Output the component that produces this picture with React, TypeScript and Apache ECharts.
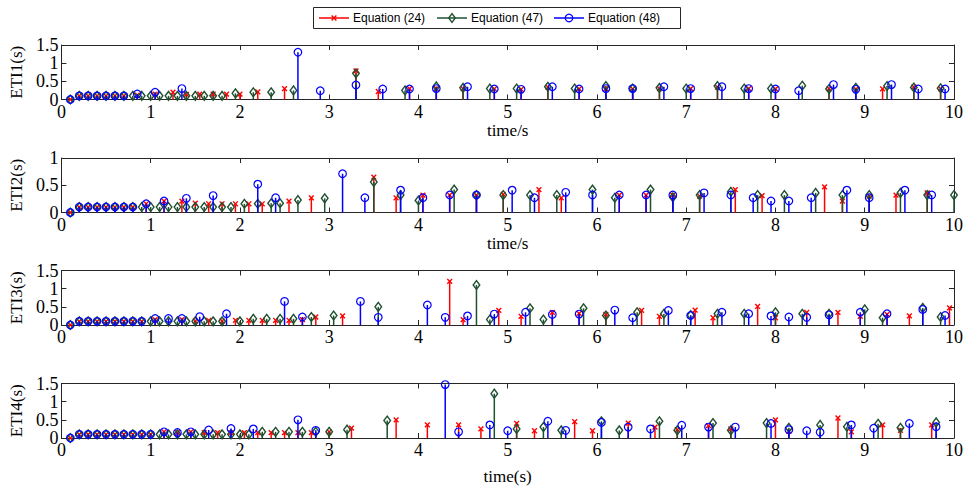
import React, { useEffect, useRef } from "react";
import * as echarts from "echarts";

// ---------- DATA (time [s], value [s]) ----------
const eti1Eq24 = [[0.1,0],[0.2,0.1],[0.3,0.1],[0.4,0.1],[0.5,0.1],[0.6,0.1],[0.7,0.1],[0.85,0.12],[1.05,0.15],[1.25,0.2],[1.4,0.14],[1.55,0.15],[1.7,0.15],[1.85,0.15],[2.0,0.15],[2.2,0.21],[2.5,0.3],[3.3,0.79],[3.55,0.22],[3.9,0.3],[4.2,0.3],[4.5,0.3],[4.85,0.29],[5.15,0.28],[5.45,0.34],[5.8,0.29],[6.1,0.3],[6.4,0.29],[6.7,0.3],[7.05,0.3],[7.35,0.34],[7.7,0.3],[8.0,0.29],[8.6,0.3],[8.9,0.28],[9.2,0.29],[9.55,0.35],[9.85,0.3]];
const eti1Eq47 = [[0.1,0],[0.2,0.1],[0.3,0.1],[0.4,0.1],[0.5,0.1],[0.6,0.1],[0.7,0.1],[0.8,0.1],[0.9,0.1],[1.0,0.1],[1.1,0.1],[1.2,0.1],[1.3,0.1],[1.4,0.1],[1.5,0.1],[1.6,0.1],[1.7,0.1],[1.8,0.1],[1.95,0.17],[2.15,0.2],[2.35,0.2],[2.6,0.25],[3.3,0.72],[3.85,0.25],[4.2,0.36],[4.5,0.32],[4.8,0.3],[5.1,0.3],[5.45,0.35],[5.75,0.3],[6.1,0.37],[6.4,0.3],[6.7,0.32],[7.0,0.3],[7.35,0.37],[7.65,0.3],[7.95,0.3],[8.3,0.38],[8.6,0.29],[8.9,0.32],[9.25,0.37],[9.55,0.33],[9.85,0.31]];
const eti1Eq48 = [[0.1,0],[0.2,0.1],[0.3,0.1],[0.4,0.1],[0.5,0.1],[0.6,0.1],[0.7,0.1],[0.85,0.15],[1.05,0.2],[1.35,0.3],[2.65,1.3],[2.9,0.24],[3.3,0.4],[3.6,0.29],[3.9,0.29],[4.2,0.3],[4.55,0.35],[4.85,0.29],[5.15,0.28],[5.5,0.35],[5.8,0.29],[6.1,0.3],[6.4,0.3],[6.75,0.35],[7.05,0.3],[7.4,0.35],[7.7,0.3],[8.0,0.29],[8.26,0.24],[8.65,0.41],[8.9,0.28],[9.3,0.41],[9.6,0.29],[9.9,0.29]];

const eti2Eq24 = [[0.1,0],[0.2,0.1],[0.3,0.1],[0.4,0.1],[0.5,0.1],[0.6,0.1],[0.7,0.1],[0.8,0.1],[0.95,0.16],[1.15,0.21],[1.35,0.21],[1.5,0.17],[1.65,0.16],[1.8,0.16],[1.95,0.16],[2.1,0.16],[2.25,0.16],[2.55,0.21],[2.8,0.27],[3.5,0.65],[3.75,0.27],[4.05,0.32],[4.35,0.32],[4.65,0.32],[4.95,0.33],[5.35,0.42],[5.6,0.27],[6.25,0.32],[6.55,0.32],[6.85,0.32],[7.15,0.3],[7.55,0.42],[7.85,0.31],[8.55,0.47],[8.75,0.21],[9.05,0.3],[9.35,0.32],[9.7,0.36]];
const eti2Eq47 = [[0.1,0],[0.2,0.1],[0.3,0.1],[0.4,0.1],[0.5,0.1],[0.6,0.1],[0.7,0.1],[0.8,0.1],[0.9,0.1],[1.0,0.1],[1.1,0.1],[1.2,0.1],[1.3,0.1],[1.4,0.1],[1.5,0.1],[1.6,0.1],[1.7,0.1],[1.8,0.1],[1.9,0.1],[2.05,0.16],[2.2,0.16],[2.35,0.17],[2.45,0.17],[2.65,0.23],[2.95,0.26],[3.5,0.56],[3.8,0.32],[4.0,0.22],[4.4,0.42],[4.65,0.32],[4.95,0.32],[5.25,0.32],[5.55,0.32],[5.95,0.42],[6.2,0.27],[6.6,0.42],[6.85,0.28],[7.15,0.32],[7.5,0.38],[7.8,0.32],[8.1,0.32],[8.45,0.36],[8.75,0.32],[9.05,0.32],[9.4,0.36],[9.7,0.32],[10.0,0.32]];
const eti2Eq48 = [[0.1,0],[0.2,0.1],[0.3,0.1],[0.4,0.1],[0.5,0.1],[0.6,0.1],[0.7,0.1],[0.8,0.1],[0.95,0.16],[1.15,0.21],[1.4,0.26],[1.7,0.31],[2.2,0.52],[2.4,0.27],[3.15,0.71],[3.4,0.27],[3.8,0.41],[4.05,0.27],[4.35,0.32],[4.65,0.32],[5.05,0.41],[5.3,0.27],[5.65,0.37],[5.95,0.32],[6.25,0.32],[6.55,0.32],[6.85,0.32],[7.2,0.36],[7.5,0.32],[7.75,0.27],[7.95,0.21],[8.15,0.21],[8.4,0.27],[8.8,0.41],[9.05,0.27],[9.45,0.41],[9.75,0.32]];

const eti3Eq24 = [[0.1,0],[0.2,0.1],[0.3,0.1],[0.4,0.1],[0.5,0.1],[0.6,0.1],[0.7,0.1],[0.8,0.1],[0.9,0.1],[1.05,0.15],[1.35,0.15],[1.5,0.11],[1.65,0.13],[1.8,0.11],[1.95,0.13],[2.1,0.13],[2.25,0.13],[2.4,0.13],[2.55,0.13],[2.7,0.15],[2.85,0.22],[3.15,0.25],[4.35,1.2],[4.5,0.15],[4.9,0.4],[5.15,0.24],[5.5,0.35],[5.8,0.32],[6.1,0.29],[6.5,0.4],[6.7,0.24],[7.1,0.41],[7.3,0.2],[7.8,0.51],[8.0,0.2],[8.35,0.35],[8.7,0.35],[8.95,0.24],[9.25,0.29],[9.5,0.25],[9.95,0.47]];
const eti3Eq47 = [[0.1,0],[0.2,0.1],[0.3,0.1],[0.4,0.1],[0.5,0.1],[0.6,0.1],[0.7,0.1],[0.8,0.1],[0.9,0.1],[1.0,0.1],[1.1,0.1],[1.2,0.1],[1.3,0.1],[1.4,0.1],[1.5,0.1],[1.6,0.1],[1.7,0.1],[1.8,0.1],[2.0,0.1],[2.15,0.17],[2.3,0.17],[2.45,0.17],[2.6,0.17],[2.8,0.22],[3.05,0.26],[3.55,0.5],[4.65,1.1],[4.8,0.15],[5.25,0.46],[5.4,0.15],[5.85,0.46],[6.1,0.26],[6.45,0.35],[6.75,0.31],[7.05,0.27],[7.35,0.31],[7.65,0.31],[8.0,0.35],[8.3,0.31],[8.6,0.31],[9.0,0.43],[9.2,0.2],[9.65,0.47],[9.85,0.22]];
const eti3Eq48 = [[0.1,0],[0.2,0.1],[0.3,0.1],[0.4,0.1],[0.5,0.1],[0.6,0.1],[0.7,0.1],[0.8,0.1],[0.9,0.1],[1.05,0.18],[1.2,0.18],[1.35,0.18],[1.55,0.23],[1.85,0.31],[2.5,0.65],[2.7,0.22],[3.35,0.65],[3.55,0.21],[4.1,0.55],[4.3,0.21],[4.55,0.25],[4.85,0.3],[5.2,0.35],[5.5,0.29],[5.8,0.3],[6.2,0.41],[6.4,0.2],[6.8,0.4],[7.05,0.26],[7.4,0.35],[7.7,0.31],[7.95,0.25],[8.15,0.22],[8.35,0.21],[8.6,0.28],[8.95,0.35],[9.25,0.31],[9.65,0.43],[9.9,0.26]];

const eti4Eq24 = [[0.1,0],[0.2,0.1],[0.3,0.1],[0.4,0.1],[0.5,0.1],[0.6,0.1],[0.7,0.1],[0.8,0.1],[0.9,0.1],[1.0,0.1],[1.15,0.17],[1.3,0.15],[1.45,0.17],[1.6,0.15],[1.75,0.15],[1.9,0.15],[2.05,0.15],[2.2,0.15],[2.35,0.15],[2.5,0.15],[2.65,0.15],[2.8,0.15],[3.0,0.17],[3.25,0.27],[3.75,0.5],[4.1,0.36],[4.45,0.36],[4.7,0.25],[5.1,0.4],[5.3,0.2],[5.75,0.45],[5.95,0.2],[6.35,0.41],[6.65,0.3],[6.9,0.23],[7.25,0.34],[7.5,0.25],[8.0,0.5],[8.15,0.18],[8.7,0.55],[8.85,0.17],[9.2,0.36],[9.4,0.21],[9.75,0.36]];
const eti4Eq47 = [[0.1,0],[0.2,0.1],[0.3,0.1],[0.4,0.1],[0.5,0.1],[0.6,0.1],[0.7,0.1],[0.8,0.1],[0.9,0.1],[1.0,0.1],[1.1,0.1],[1.2,0.1],[1.3,0.1],[1.4,0.1],[1.5,0.1],[1.6,0.1],[1.7,0.1],[1.8,0.1],[1.9,0.1],[2.0,0.1],[2.1,0.1],[2.25,0.17],[2.4,0.17],[2.55,0.17],[2.7,0.17],[2.85,0.17],[3.0,0.17],[3.2,0.23],[3.65,0.48],[4.85,1.22],[5.1,0.25],[5.4,0.3],[5.6,0.21],[6.05,0.46],[6.25,0.21],[6.7,0.46],[6.9,0.21],[7.3,0.41],[7.5,0.21],[7.9,0.41],[8.15,0.28],[8.5,0.36],[8.8,0.31],[9.15,0.39],[9.4,0.28],[9.8,0.43]];
const eti4Eq48 = [[0.1,0],[0.2,0.1],[0.3,0.1],[0.4,0.1],[0.5,0.1],[0.6,0.1],[0.7,0.1],[0.8,0.1],[0.9,0.1],[1.0,0.1],[1.15,0.17],[1.3,0.15],[1.45,0.17],[1.65,0.22],[1.9,0.26],[2.15,0.25],[2.65,0.5],[2.85,0.21],[4.3,1.47],[4.45,0.17],[4.8,0.36],[5.0,0.2],[5.45,0.46],[5.65,0.21],[6.05,0.43],[6.35,0.3],[6.6,0.25],[6.95,0.35],[7.25,0.3],[7.55,0.3],[7.95,0.4],[8.15,0.23],[8.35,0.2],[8.5,0.16],[8.85,0.36],[9.1,0.27],[9.5,0.4],[9.8,0.31]];

const panelNames = ["ETI1(s)", "ETI2(s)", "ETI3(s)", "ETI4(s)"];
const panelMax = [1.5, 1, 1.5, 1.5];
const panelXNames = ["time/s", "time/s", "", "time(s)"];
const seriesNames = ["Equation (24)", "Equation (47)", "Equation (48)"];
const panelData = [
  [eti1Eq24, eti1Eq47, eti1Eq48],
  [eti2Eq24, eti2Eq47, eti2Eq48],
  [eti3Eq24, eti3Eq47, eti3Eq48],
  [eti4Eq24, eti4Eq47, eti4Eq48],
];

// ---------- STYLE ----------
const RED = "#ff0000";
const GREEN = "#1f5030";
const BLUE = "#0000ff";
const COLORS = [RED, GREEN, BLUE];
const KINDS = ["x", "diamond", "circle"];
const AXIS = "#262626";
const SERIF = '"Liberation Serif", "Times New Roman", serif';

const gridTops = [45, 158, 270.5, 383.5];
const gridHeight = 54.5;
const xNameGaps = [22, 22, 22, 30];

function markerChildren(kind: string, cx: number, cy: number, color: string) {
  if (kind === "circle") {
    return [{ type: "circle", shape: { cx, cy, r: 3.8 }, style: { fill: "none", stroke: color, lineWidth: 1.2 } }];
  }
  if (kind === "diamond") {
    return [{
      type: "polygon",
      shape: { points: [[cx, cy - 4.4], [cx + 3.3, cy], [cx, cy + 4.4], [cx - 3.3, cy]] },
      style: { fill: "none", stroke: color, lineWidth: 1.4 },
    }];
  }
  const d = 2.4;
  return [
    { type: "line", shape: { x1: cx - d, y1: cy - d, x2: cx + d, y2: cy + d }, style: { stroke: color, lineWidth: 1.4 } },
    { type: "line", shape: { x1: cx - d, y1: cy + d, x2: cx + d, y2: cy - d }, style: { stroke: color, lineWidth: 1.4 } },
  ];
}

function stemRenderer(kind: string, color: string) {
  return (params: any, api: any) => {
    const x = api.value(0);
    const y = api.value(1);
    const top = api.coord([x, y]);
    const base = api.coord([x, 0]);
    return {
      type: "group",
      children: [
        { type: "line", shape: { x1: top[0], y1: base[1], x2: top[0], y2: top[1] }, style: { stroke: color, lineWidth: 1.5 } },
        ...markerChildren(kind, top[0], top[1], color),
      ],
    };
  };
}

function legendGraphic() {
  const els: any[] = [
    { type: "rect", shape: { x: 313.5, y: 7.5, width: 367, height: 21 }, style: { fill: "#fff", stroke: AXIS, lineWidth: 1 }, z: 10 },
  ];
  const starts = [319, 437, 554];
  starts.forEach((sx, i) => {
    const c = COLORS[i];
    const cy = 18;
    els.push({ type: "line", shape: { x1: sx, y1: cy, x2: sx + 30, y2: cy }, style: { stroke: c, lineWidth: 1.5 }, z: 11 });
    markerChildren(KINDS[i], sx + 15, cy, c).forEach((m: any) => els.push({ ...m, z: 11 }));
    els.push({
      type: "text",
      x: sx + 34,
      y: cy,
      style: { text: seriesNames[i], fill: "#000", font: '12px "Liberation Sans", Arial, sans-serif', textAlign: "left", textVerticalAlign: "middle" },
      z: 11,
    });
  });
  return els;
}

export default function App() {
  const ref = useRef<HTMLDivElement>(null);
  useEffect(() => {
    if (!ref.current) return;
    const chart = echarts.init(ref.current, null, { renderer: "svg" });
    const grid: any[] = [];
    const xAxis: any[] = [];
    const yAxis: any[] = [];
    const series: any[] = [];
    const axisLine = { show: true, onZero: false, lineStyle: { color: AXIS, width: 1 } };
    const tick = { show: true, inside: true, length: 5, lineStyle: { color: AXIS, width: 1 } };
    for (let i = 0; i < 4; i++) {
      grid.push({ left: 52, right: 10, top: gridTops[i], height: gridHeight, containLabel: false });
      xAxis.push({
        gridIndex: i, type: "value", min: 0, max: 10, interval: 1, position: "bottom",
        axisLine, axisTick: tick, splitLine: { show: false },
        axisLabel: { color: "#000", fontFamily: SERIF, fontSize: 18, margin: 3 },
        name: panelXNames[i], nameLocation: "middle", nameGap: xNameGaps[i],
        nameTextStyle: { color: "#000", fontFamily: SERIF, fontSize: 17 },
      });
      yAxis.push({
        gridIndex: i, type: "value", min: 0, max: panelMax[i], interval: 0.5, position: "left",
        axisLine, axisTick: tick, splitLine: { show: false },
        axisLabel: { color: "#000", fontFamily: SERIF, fontSize: 18, margin: 3 },
        name: panelNames[i], nameLocation: "middle", nameGap: 27, nameRotate: 90,
        nameTextStyle: { color: "#000", fontFamily: SERIF, fontSize: 17 },
      });
    }
    for (let i = 0; i < 4; i++) {
      xAxis.push({
        gridIndex: i, type: "value", min: 0, max: 10, interval: 1, position: "top",
        axisLine, axisTick: tick, splitLine: { show: false }, axisLabel: { show: false },
      });
      yAxis.push({
        gridIndex: i, type: "value", min: 0, max: panelMax[i], interval: 0.5, position: "right",
        axisLine, axisTick: tick, splitLine: { show: false }, axisLabel: { show: false },
      });
    }
    for (let i = 0; i < 4; i++) {
      for (let s = 0; s < 3; s++) {
        series.push({
          type: "custom",
          name: seriesNames[s],
          xAxisIndex: i,
          yAxisIndex: i,
          coordinateSystem: "cartesian2d",
          encode: { x: 0, y: 1 },
          renderItem: stemRenderer(KINDS[s], COLORS[s]),
          data: panelData[i][s],
          clip: false,
          z: 2 + s,
        });
      }
    }
    chart.setOption({
      animation: false,
      backgroundColor: "#ffffff",
      grid,
      xAxis,
      yAxis,
      series,
      graphic: legendGraphic(),
    });
    return () => chart.dispose();
  }, []);
  return <div ref={ref} style={{ position: "fixed", left: 0, top: 0, width: 966, height: 487 }} />;
}
